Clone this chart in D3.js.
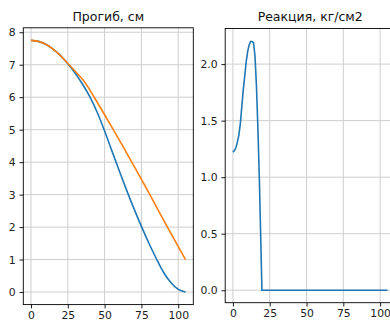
<!DOCTYPE html>
<html>
<head>
<meta charset="utf-8">
<script src="https://cdn.jsdelivr.net/npm/d3@7"></script>
<style>
    body { margin: 0; background: #fff; }
    svg { display: block; overflow: hidden; }
    text { font-family: "DejaVu Sans", sans-serif; }
</style>
</head>
<body>
<svg id="chart" width="390" height="320"></svg>
<script>
// deflection along the beam, cm
var deflX = [0, 5, 10, 15, 20, 25, 30, 35, 40, 45, 50, 55, 60, 65, 70, 75, 80, 85, 90, 95, 100, 105];
var deflBlue = [7.75, 7.72, 7.63, 7.48, 7.28, 7.03, 6.74, 6.40, 6.01, 5.53, 4.96, 4.34, 3.73, 3.13,
    2.56, 2.02, 1.51, 1.04, 0.61, 0.29, 0.08, 0.0];
var deflOrange = [7.75, 7.72, 7.63, 7.48, 7.28, 7.04, 6.80, 6.55, 6.22, 5.84, 5.46, 5.07, 4.68, 4.28,
    3.88, 3.47, 3.06, 2.64, 2.22, 1.81, 1.40, 1.0];

// soil reaction, kg/cm2
var reactX = [0, 1, 2, 3, 4, 5, 6, 7, 8, 9, 10, 11, 12, 13, 14, 15, 16, 17, 18, 19, 19.7, 105];
var reactY = [1.22, 1.235, 1.26, 1.31, 1.37, 1.47, 1.62, 1.77, 1.89, 2.02, 2.11, 2.17, 2.20, 2.20,
    2.19, 2.07, 1.80, 1.42, 0.96, 0.40, 0.0, 0.0];

var xTicks = [0, 25, 50, 75, 100];
var deflTicks = [0, 1, 2, 3, 4, 5, 6, 7, 8];
var reactTicks = [0, 0.5, 1.0, 1.5, 2.0];

var blue = '#1f77b4';
var orange = '#ff7f0e';

var svg = d3.select('#chart');

/**
 * Draw one subplot: grid, lines, frame, ticks and title.
 */
function drawPanel(p) {
    var x = d3.scaleLinear().domain(p.xDomain).range([p.left, p.right]);
    var y = d3.scaleLinear().domain(p.yDomain).range([p.bottom, p.top]);
    var g = svg.append('g');

    var clipId = 'clip' + p.id;
    g.append('clipPath').attr('id', clipId)
        .append('rect')
        .attr('x', p.left).attr('y', p.top)
        .attr('width', p.right - p.left).attr('height', p.bottom - p.top);

    // grid
    g.selectAll('.vgrid').data(xTicks).enter().append('line')
        .attr('x1', function(d) { return x(d); })
        .attr('x2', function(d) { return x(d); })
        .attr('y1', p.top).attr('y2', p.bottom)
        .style('stroke', '#cfcfcf').style('stroke-width', 1);
    g.selectAll('.hgrid').data(p.yTicks).enter().append('line')
        .attr('x1', p.left).attr('x2', p.right)
        .attr('y1', function(d) { return y(d); })
        .attr('y2', function(d) { return y(d); })
        .style('stroke', '#cfcfcf').style('stroke-width', 1);

    // data lines
    p.series.forEach(function(s) {
        var line = d3.line()
            .x(function(d, i) { return x(s.x[i]); })
            .y(function(d) { return y(d); })
            .curve(s.curve);
        g.append('path')
            .attr('d', line(s.y))
            .attr('clip-path', 'url(#' + clipId + ')')
            .style('fill', 'none')
            .style('stroke', s.color)
            .style('stroke-width', 1.6);
    });

    // axes
    var xAxis = d3.axisBottom(x).tickValues(xTicks).tickSize(3.8).tickPadding(3.2)
        .tickFormat(d3.format('d'));
    var yAxis = d3.axisLeft(y).tickValues(p.yTicks).tickSize(3.8).tickPadding(3.8)
        .tickFormat(d3.format(p.yFormat));
    g.append('g').attr('transform', 'translate(0,' + p.bottom + ')').call(xAxis);
    g.append('g').attr('transform', 'translate(' + p.left + ',0)').call(yAxis);
    g.selectAll('.domain').remove();
    g.selectAll('.tick line').style('stroke', '#000').style('stroke-width', 0.9);
    g.selectAll('.tick text').style('font-size', '10.8px').style('fill', '#222')
        .style('font-family', '"DejaVu Sans", sans-serif');

    // frame
    g.append('rect')
        .attr('x', p.left).attr('y', p.top)
        .attr('width', p.right - p.left).attr('height', p.bottom - p.top)
        .style('fill', 'none').style('stroke', '#000').style('stroke-width', 0.9);

    // title
    g.append('text')
        .attr('x', (p.left + p.right) / 2)
        .attr('y', 21)
        .attr('text-anchor', 'middle')
        .style('font-size', '12.5px')
        .style('fill', '#111')
        .text(p.title);
}

drawPanel({
    id: 'L',
    left: 23.3, right: 193.3, top: 27.8, bottom: 304.6,
    xDomain: [-5.25, 110.25],
    yDomain: [-0.3875, 8.1375],
    yTicks: deflTicks,
    yFormat: 'd',
    title: 'Прогиб, см',
    series: [
        { x: deflX, y: deflBlue, color: blue, curve: d3.curveMonotoneX },
        { x: deflX, y: deflOrange, color: orange, curve: d3.curveMonotoneX }
    ]
});

drawPanel({
    id: 'R',
    left: 225.2, right: 395.2, top: 28.5, bottom: 302.7,
    xDomain: [-5.25, 110.25],
    yDomain: [-0.11, 2.315],
    yTicks: reactTicks,
    yFormat: '.1f',
    title: 'Реакция, кг/см2',
    series: [
        { x: reactX, y: reactY, color: blue, curve: d3.curveLinear }
    ]
});
</script>
</body>
</html>
